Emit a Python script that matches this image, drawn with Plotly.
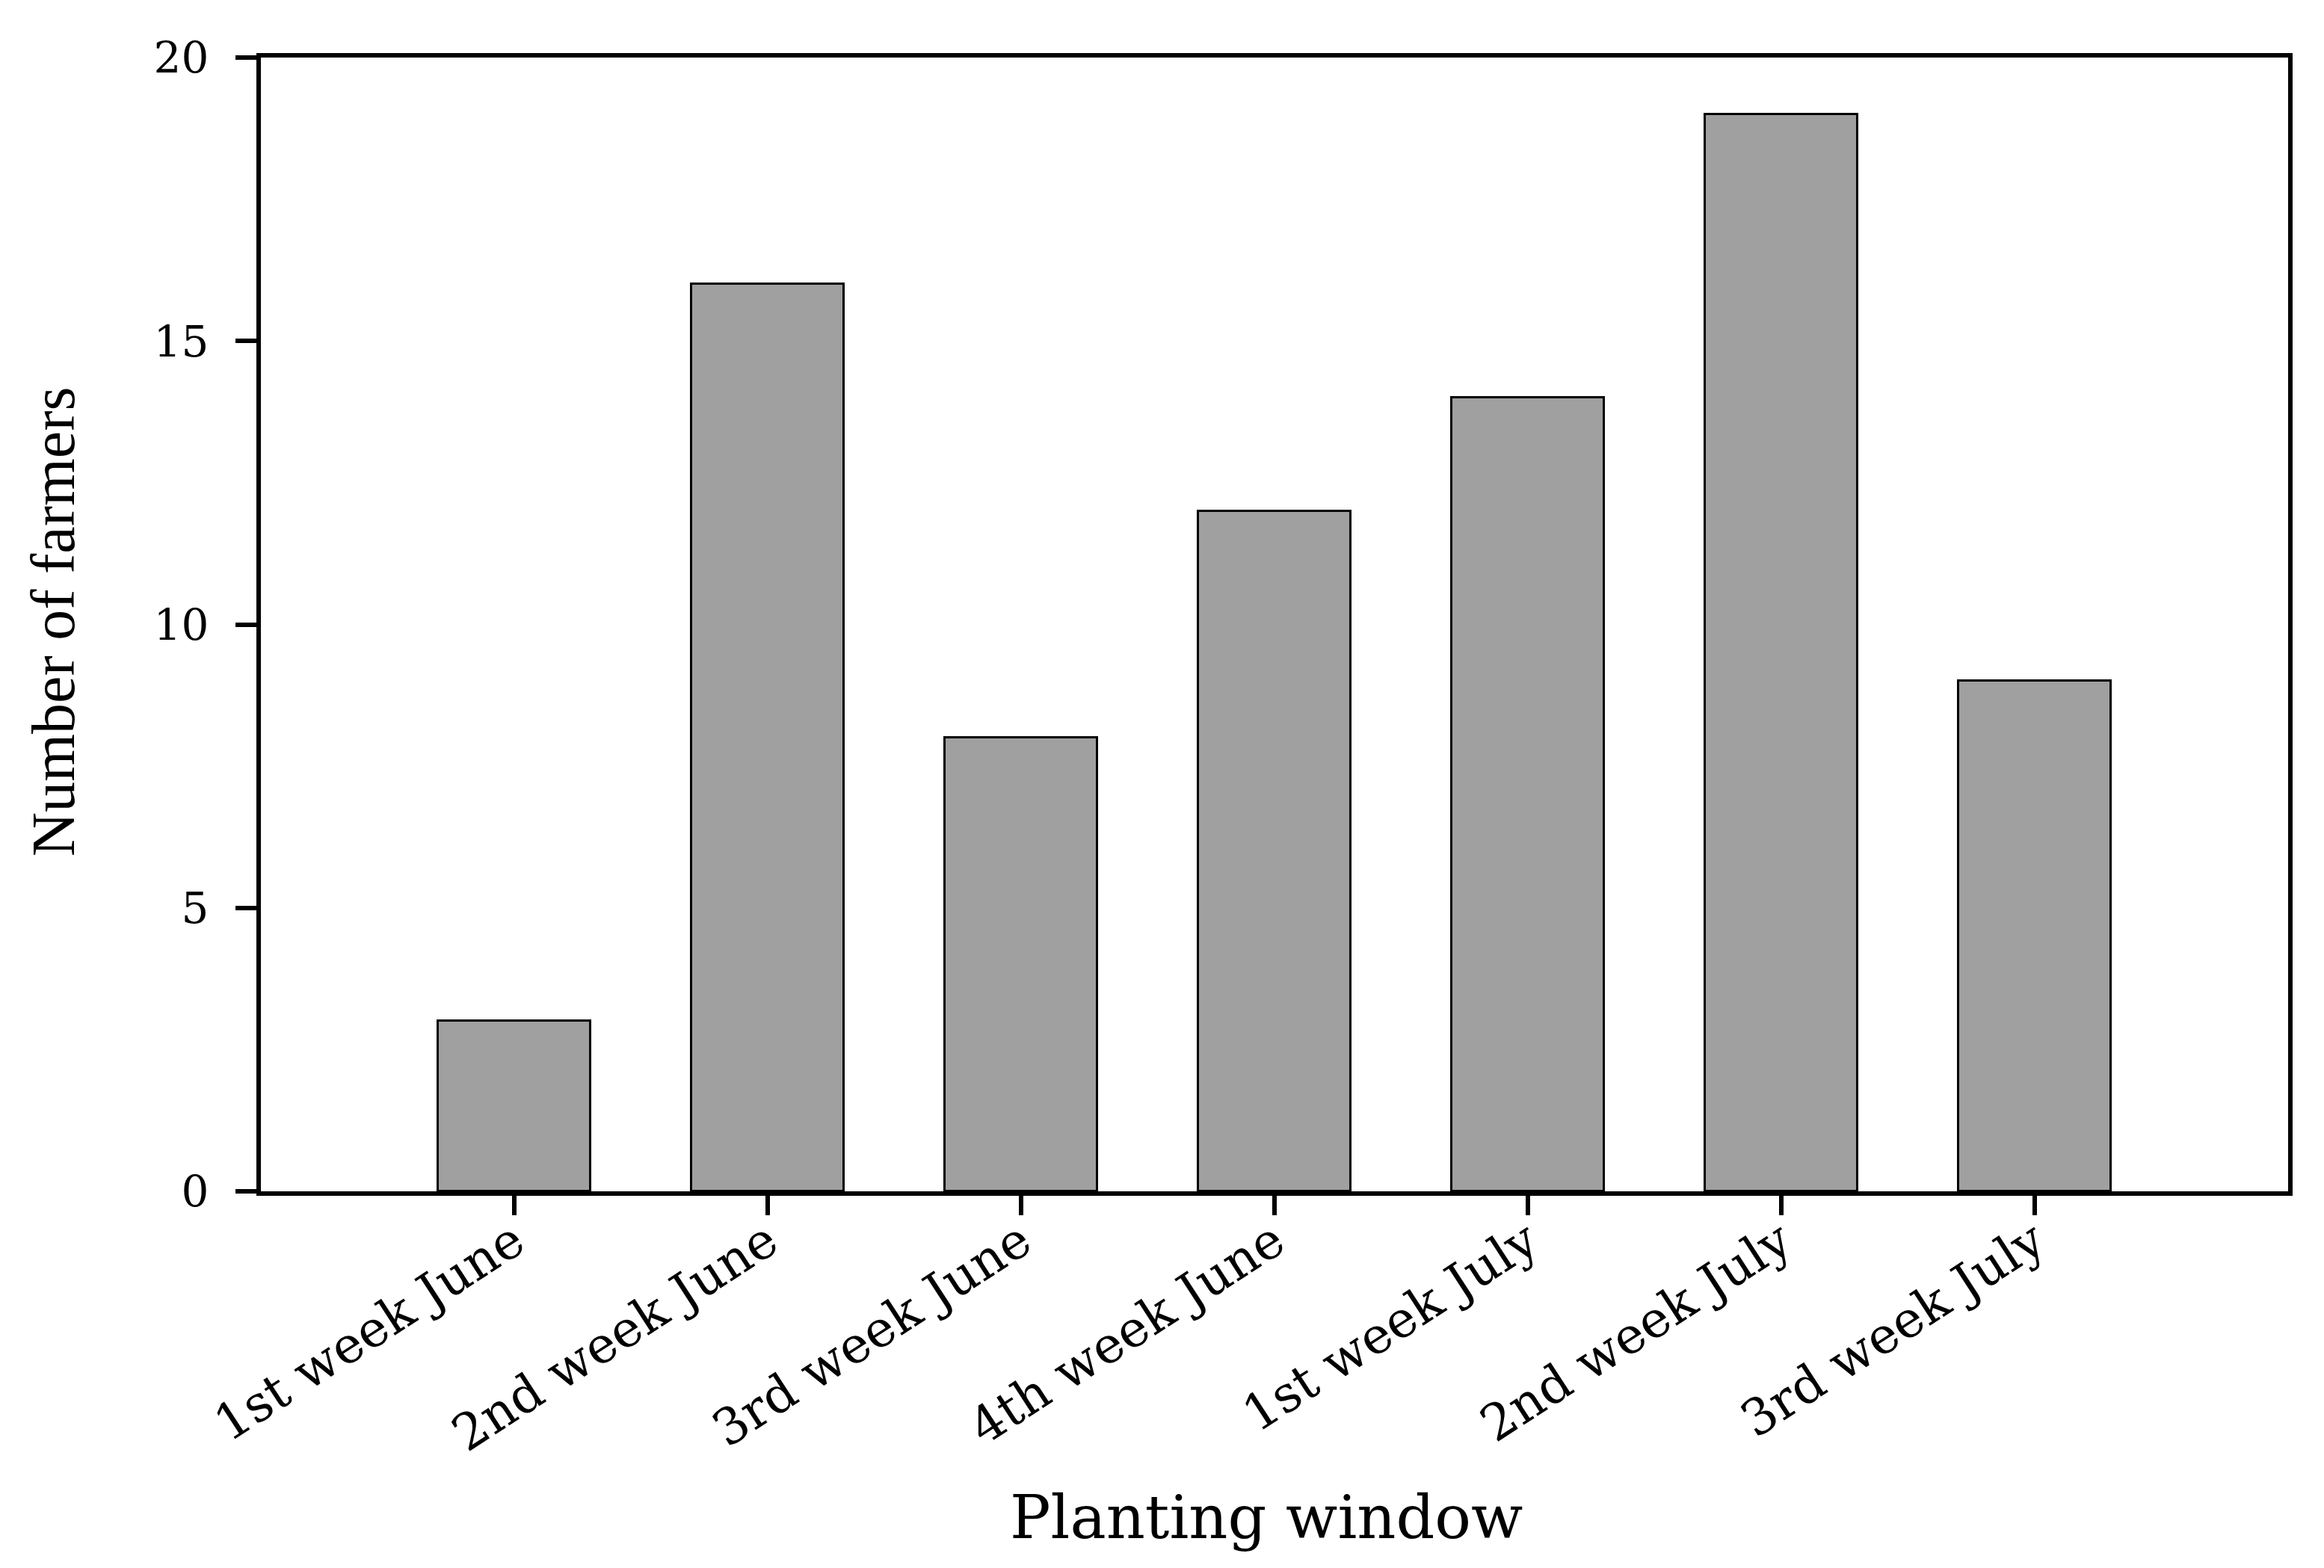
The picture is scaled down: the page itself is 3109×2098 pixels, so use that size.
import plotly.graph_objects as go

categories = ["1st week June", "2nd week June", "3rd week June", "4th week June",
              "1st week July", "2nd week July", "3rd week July"]
farmers = [3, 16, 8, 12, 14, 19, 9]
y_ticks = [0, 5, 10, 15, 20]

FONT = "DejaVu Serif"
TFONT = "Liberation Serif"

W, H = 3109, 2098
L, R, T, B = 349, 48, 77, 504

fig = go.Figure()
fig.add_trace(go.Bar(
    x=list(range(len(categories))), y=farmers, width=0.6,
    marker=dict(color="#a0a0a0", line=dict(color="black", width=3)),
    showlegend=False,
))

fig.update_layout(
    width=W, height=H,
    margin=dict(l=L, r=R, t=T, b=B),
    paper_bgcolor="white", plot_bgcolor="white",
    font=dict(family=FONT, color="black"),
    bargap=0,
)
fig.update_xaxes(
    range=[-1, 7], tickmode="array", tickvals=list(range(len(categories))),
    ticktext=categories, tickangle=-33,
    ticks="outside", ticklen=26, tickwidth=6, tickcolor="black",
    showline=True, linewidth=6, linecolor="black", mirror=True,
    showgrid=False, zeroline=False,
    tickfont=dict(family=FONT, size=67, color="black"),
    ticklabelstandoff=-30,
)
fig.update_yaxes(
    range=[0, 20], tickmode="array", tickvals=y_ticks,
    ticktext=[str(v) for v in y_ticks],
    ticks="outside", ticklen=28, tickwidth=6, tickcolor="black",
    showline=True, linewidth=6, linecolor="black", mirror=True,
    showgrid=False, zeroline=False,
    tickfont=dict(family=FONT, size=58, color="black"),
    ticklabelstandoff=24,
)
ph = H - T - B
pw = W - L - R
fig.add_annotation(text="Planting window", xref="paper", yref="paper",
                   x=(1694 - L) / pw, y=-(2030 - (H - B)) / ph, yanchor="middle",
                   showarrow=False, font=dict(family=FONT, size=81, color="black"))
fig.add_annotation(text="Number of farmers", xref="paper", yref="paper",
                   x=-(L - 71) / pw, y=((H - B) - 832) / ph,
                   xanchor="center", yanchor="middle", textangle=-90,
                   showarrow=False, font=dict(family=TFONT, size=82, color="black"))

fig.write_html("out.html", config={"displayModeBar": False},
               post_script="document.body.style.margin='0';")
